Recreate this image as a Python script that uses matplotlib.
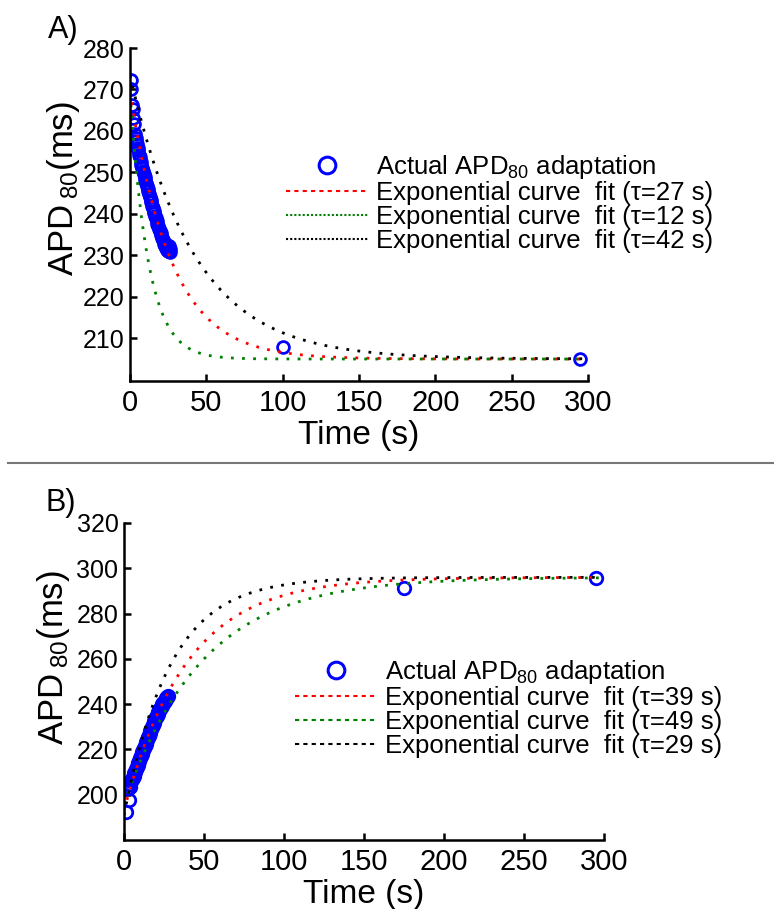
import numpy as np
import matplotlib.pyplot as plt
from matplotlib.lines import Line2D

plt.rcParams['font.family'] = ['Liberation Sans', 'DejaVu Sans']
plt.rcParams['mathtext.fontset'] = 'custom'
plt.rcParams['mathtext.rm'] = 'Liberation Sans'
plt.rcParams['mathtext.default'] = 'regular'

# panel A: measured APD80 (decreasing)
tA = [0.5, 0.6, 1.1, 1.7, 1.9, 2.6, 3.3, 3.7, 4.0, 4.5, 5.0, 5.5, 6.0, 6.5, 7.0,
      7.5, 8.0, 8.5, 9.0, 9.5, 10.0, 10.5, 11.0, 11.5, 12.0, 12.5, 13.0, 13.5,
      14.0, 14.5, 15.0, 15.5, 16.0, 16.5, 17.0, 17.5, 18.0, 18.5, 19.0, 19.5,
      20.0, 20.5, 21.0, 21.5, 22.0, 22.5, 23.0, 23.5, 24.0, 24.5, 25.0, 25.5,
      26.0, 26.5, 100, 295]
apdA = [272.3, 270.2, 266.3, 265.2, 263.1, 261.6, 259.3, 258.4, 257.6, 256.8,
        255.9, 255.3, 254.2, 253.6, 252.5, 251.9, 251.0, 250.4, 249.5, 248.9,
        248.1, 247.4, 246.8, 246.0, 245.4, 244.7, 244.1, 243.3, 242.8, 242.0,
        241.5, 240.7, 240.2, 239.4, 238.9, 238.3, 237.6, 237.1, 236.4, 235.9,
        235.3, 234.8, 234.2, 233.8, 233.1, 232.7, 232.2, 231.8, 231.3, 232.6,
        231.0, 232.2, 230.8, 231.5, 208.0, 204.9]

# panel B: measured APD80 (increasing)
tB = [1.4, 3.2, 2.6, 3.5, 4.0, 4.5, 5.0, 5.5, 6.0, 6.5, 7.0, 7.5, 8.0, 8.5, 9.0,
      9.5, 10.0, 10.5, 11.0, 11.5, 12.0, 12.5, 13.0, 13.5, 14.0, 14.5, 15.0,
      15.5, 16.0, 16.5, 17.0, 17.5, 18.0, 18.5, 19.0, 19.5, 20.0, 20.5, 21.0,
      21.5, 22.0, 22.5, 23.0, 23.5, 24.0, 24.5, 25.0, 25.5, 26.0, 26.5, 27.0,
      27.5, 175, 295]
apdB = [192.4, 197.6, 202.8, 203.5, 204.6, 205.9, 206.8, 207.5, 208.3, 209.4,
        210.1, 211.2, 212.3, 213.1, 214.2, 215.0, 216.0, 216.9, 217.9, 218.8,
        219.6, 220.7, 221.5, 222.4, 223.4, 224.2, 225.3, 226.1, 227.2, 228.1,
        229.0, 229.8, 230.9, 231.5, 232.6, 233.3, 234.2, 234.8, 235.8, 236.4,
        237.3, 237.9, 238.6, 239.1, 239.9, 240.4, 241.0, 241.6, 242.1, 242.6,
        243.2, 243.6, 291.5, 295.9]

# exponential fits: steady state, amplitude, time constant
fitA_tau = [27, 12, 42]
fitA_amp = [64.5, 64.0, 68.5]
fitA_ss = 205.0
fitB_tau = [39, 49, 29]
fitB_amp = [-103.0, -100.0, -105.0]
fitB_ss = 296.0
fit_colors = ['#ff0000', '#008000', '#000000']

fig = plt.figure(figsize=(7.74, 9.09), dpi=100)
axA = fig.add_axes([130/774, 1-381/909, 458/774, 333/909])
axB = fig.add_axes([124/774, 1-840/909, 480/774, 317/909])

t_fit = np.linspace(0, 297, 600)


def style(ax, yticks, ylim):
    ax.spines['top'].set_visible(False)
    ax.spines['right'].set_visible(False)
    for s in ['left', 'bottom']:
        ax.spines[s].set_linewidth(1.8)
    ax.set_xlim(0, 300)
    ax.set_ylim(*ylim)
    ax.set_xticks([0, 50, 100, 150, 200, 250, 300])
    ax.set_yticks(yticks)
    ax.tick_params(direction='in', length=5, width=1.8)
    ax.tick_params(axis='x', labelsize=21, pad=6)
    ax.tick_params(axis='y', labelsize=18, pad=4)
    ax.set_xlabel('Time (s)', fontsize=24, labelpad=2)
    ax.set_ylabel(r'APD$\,_{80}$(ms)', fontsize=25)


# ---- panel A
axA.plot(tA, apdA, ls='none', marker='o', mfc='none', mec='#0000ff', ms=8.5, mew=2)
for tau, amp, c in zip(fitA_tau, fitA_amp, fit_colors):
    axA.plot(t_fit, fitA_ss + amp*np.exp(-t_fit/tau), color=c, lw=2,
             dashes=(1, 3))
style(axA, range(210, 281, 10), (199.7, 280))
axA.yaxis.set_label_coords(-0.105, 0.577)

hA = [Line2D([], [], ls='none', marker='o', mfc='none', mec='#0000ff', ms=12, mew=2.2),
      Line2D([], [], color='#ff0000', lw=1.5, dashes=(2, 2)),
      Line2D([], [], color='#008000', lw=1.5, dashes=(1, 1)),
      Line2D([], [], color='#000000', lw=1.5, dashes=(1, 1))]
labA = ['Actual APD$_{80}$ adaptation'] + \
       ['Exponential curve  fit (τ=%d s)' % t for t in fitA_tau]
axA.legend(hA, labA, loc='upper left', bbox_to_anchor=(286/774, 1-153/909),
           bbox_transform=fig.transFigure, frameon=False, fontsize=18.5,
           borderpad=0, borderaxespad=0, handlelength=3.2, handletextpad=0.3,
           labelspacing=0.0)

# ---- panel B
axB.plot(tB, apdB, ls='none', marker='o', mfc='none', mec='#0000ff', ms=9, mew=2)
for tau, amp, c in zip(fitB_tau, fitB_amp, fit_colors):
    axB.plot(t_fit, fitB_ss + amp*np.exp(-t_fit/tau), color=c, lw=2,
             dashes=(1, 3))
style(axB, range(200, 321, 20), (180, 320))
axB.yaxis.set_label_coords(-0.108, 0.574)

hB = [Line2D([], [], ls='none', marker='o', mfc='none', mec='#0000ff', ms=12, mew=2.2)] + \
     [Line2D([], [], color=c, lw=1.5, dashes=(2, 2)) for c in fit_colors]
labB = ['Actual APD$_{80}$ adaptation'] + \
       ['Exponential curve  fit (τ=%d s)' % t for t in fitB_tau]
axB.legend(hB, labB, loc='upper left', bbox_to_anchor=(295/774, 1-658/909),
           bbox_transform=fig.transFigure, frameon=False, fontsize=18.5,
           borderpad=0, borderaxespad=0, handlelength=3.2, handletextpad=0.3,
           labelspacing=0.0)

# panel letters and separator
fig.text(48/774, 1-38/909, 'A)', fontsize=22)
fig.text(45/774, 1-511/909, 'B)', fontsize=22)
fig.add_artist(Line2D([8/774, 1], [1-463/909, 1-463/909], color='#777777', lw=1.5))

fig.savefig('out.png', dpi=100)
